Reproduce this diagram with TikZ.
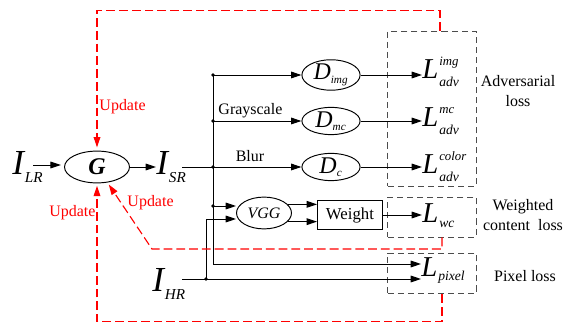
\documentclass[tikz,border=0pt]{standalone}
\usepackage{amsmath}
\usepackage{fontspec}
\setmainfont{Liberation Serif}
\usetikzlibrary{arrows.meta,shapes.geometric,calc}
\DeclareMathSizes{15}{15}{7}{5}
\newcommand{\subimg}[1]{\kern0.5pt\raisebox{-5pt}{\fontsize{9.5}{9.5}\selectfont #1}}
\newcommand{\lsym}[3]{\textit{L}\kern0.5pt%
  \rlap{\raisebox{8.5pt}{\fontsize{8}{8}\selectfont\itshape #1}}%
  \raisebox{-#3}{\fontsize{8.5}{8.5}\selectfont\itshape #2}}
\tikzset{
  net/.style={draw, ellipse, inner sep=0pt},
  disc/.style={net, minimum width=1.28cm, minimum height=0.53cm, font=\fontsize{15}{15}\selectfont},
  imgsym/.style={inner sep=0pt, font=\fontsize{22}{22}\selectfont\itshape},
  losssym/.style={inner sep=0pt, anchor=base west, font=\fontsize{18}{18}\selectfont},
  lossbox/.style={draw=black!70, dash pattern=on 3.8pt off 2.5pt, minimum width=1.94cm},
  lab/.style={inner sep=0pt, font=\fontsize{10}{12}\selectfont},
  upd/.style={draw=red, line width=0.7pt, dash pattern=on 5.5pt off 2.5pt},
  updlabel/.style={lab, text=red}
}
\begin{document}
\begin{tikzpicture}[x=0.022cm, y=-0.022cm, line width=0.6pt,
  >={Triangle[length=6.5pt,width=4.2pt]}]
\useasboundingbox (0,0) rectangle (563,323);
% Generator and images
\node[net, minimum width=1.43cm, minimum height=0.70cm,
  font=\fontsize{15}{15}\selectfont\bfseries\itshape] (G) at (97,167) {G};
\node[imgsym, anchor=base west] (ILR) at (12,175) {I\subimg{LR}};
\node[imgsym, anchor=base west] (ISR) at (156,175) {I\subimg{SR}};
\node[imgsym, anchor=base west] (IHR) at (152,292) {I\subimg{HR}};
% Discriminators, VGG and weighting
\node[disc] (Dimg) at (331,75) {$\textit{D}_{\textit{img}}$};
\node[disc] (Dmc) at (331,121) {$\textit{D}_{\textit{mc}}$};
\node[disc] (Dc) at (331,167) {$\textit{D}_{\textit{c}}$};
\node[net, minimum width=1.21cm, minimum height=0.70cm,
  font=\fontsize{10}{10}\selectfont\itshape] (VGG) at (264,213) {VGG};
\node[draw, minimum width=1.43cm, minimum height=0.62cm, inner sep=0pt,
  font=\fontsize{10.5}{10.5}\selectfont] (Weight) at (350,215) {Weight};
% Loss boxes
\node[lossbox, minimum height=3.41cm] (advbox) at (432,108.5) {};
\node[lossbox, minimum height=0.88cm] (wcbox) at (432,217) {};
\node[lossbox, minimum height=0.90cm] (pixbox) at (432,273.5) {};
\node[losssym] (Limg) at (422,79) {\lsym{img}{adv}{5pt}};
\node[losssym] (Lmc) at (422,127) {\lsym{mc}{adv}{5pt}};
\node[losssym] (Lc) at (422,174) {\lsym{color}{adv}{5pt}};
\node[losssym] (Lwc) at (422,223) {\lsym{}{wc}{3pt}};
\node[losssym] (Lpix) at (421,277) {\lsym{}{pixel}{2pt}};
\node[lab, align=center] (advtxt) at (518,91) {Adversarial\\loss};
\node[lab, align=center] (wctxt) at (523,215) {Weighted\\content\ \ loss};
\node[lab] (pixtxt) at (525,276) {Pixel loss};
% Branch points
\coordinate (inLR) at (33,165);
\coordinate (outSR) at (182,167);
\coordinate (outHR) at (182,279);
\coordinate (jImg) at (213,75);
\coordinate (jMc) at (213,121);
\coordinate (jBlur) at (213,167);
\coordinate (jVgg) at (213,206);
\coordinate (jPix) at (213,264);
\coordinate (jHR) at (206,279);
% Forward paths
\draw[->, shorten >=2pt] (inLR) -- (inLR -| G.west);
\draw[->] (G.east) -- (G.east -| ISR.west);
\draw (outSR) -- (jBlur);
\draw (jImg) -- (jPix);
\draw[->] (jImg) -- (Dimg);
\draw[->] (jMc) -- (Dmc);
\draw[->] (jBlur) -- (Dc);
\draw[->] (jVgg) -- (jVgg -| VGG.west);
\draw[->] (jPix) -- (jPix -| Lpix.west);
\draw[->] (outHR) -- (outHR -| Lpix.west);
\draw[->] (jHR) |- ($(VGG.west)+(0,6)$);
\foreach \p in {jImg,jMc,jBlur,jVgg,jHR}
  \fill (\p) circle (1.2pt);
\node[lab, anchor=base west] (gray) at (218,115) {Grayscale};
\node[lab, anchor=base] (blur) at (250,162) {Blur};
\draw[->] (Dimg) -- (Dimg -| Limg.west);
\draw[->] (Dmc) -- (Dmc -| Lmc.west);
\draw[->] (Dc) -- (Dc -| Lc.west);
\draw[->] (VGG.20) -- (VGG.20 -| Weight.west);
\draw[->] (VGG.-20) -- (VGG.-20 -| Weight.west);
\draw[->] (Weight) -- (Weight -| Lwc.west);
% Update paths back to G
\draw[upd, ->, shorten >=2pt] ($(advbox.north)+(8,0)$) -- ++(0,-20) -| (G.north);
\draw[upd, ->, shorten >=1.5pt] ($(pixbox.south)+(10,0)$) -- ++(0,27) -| (G.south);
\draw[upd, ->, shorten >=1.5pt] ($(wcbox.south)+(10,0)$) |- (152,249) -- (G);
\node[updlabel, anchor=west] (updtop) at (99,107) {Update};
\node[updlabel, anchor=east] (updleft) at (96,213) {Update};
\node[updlabel, anchor=west] (updmid) at (127,203) {Update};
\end{tikzpicture}
\end{document}
